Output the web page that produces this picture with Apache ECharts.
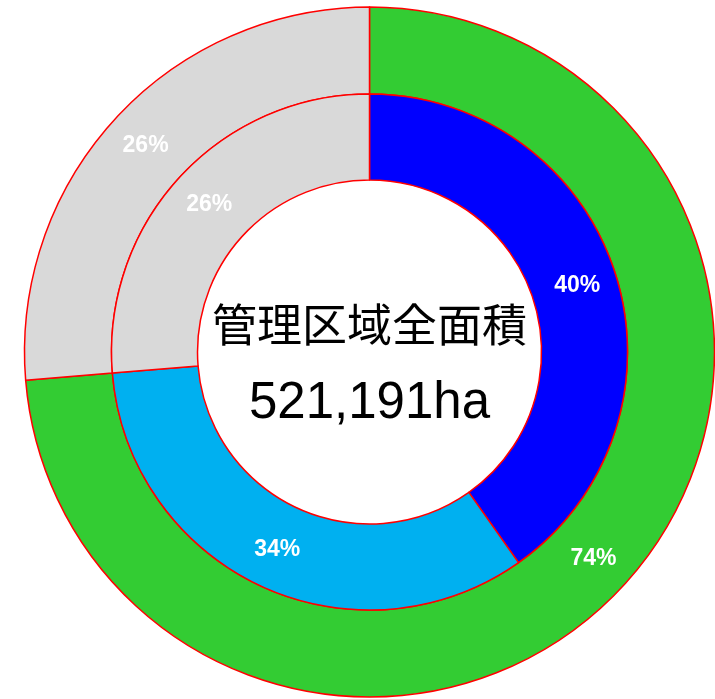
<!DOCTYPE html>
<html>
<head>
<meta charset="utf-8">
<script src="https://cdn.jsdelivr.net/npm/echarts@6/dist/echarts.min.js"></script>
<style>
  html, body { margin: 0; padding: 0; background: #fff; }
  #chart { width: 715px; height: 699px; }
</style>
</head>
<body>
<div id="chart"></div>
<script>
// 外側リング (割合)
const outerNames = ['管理区域A', 'その他'];
const outerValues = [73.7, 26.3];
const outerColors = ['#33cc33', '#d9d9d9'];
// 内側リング (割合)
const innerNames = ['区分1', '区分2', 'その他'];
const innerValues = [40.2, 33.5, 26.3];
const innerColors = ['#0000ff', '#00b0f0', '#d9d9d9'];
// 中央テキスト
const centerTitle = '管理区域全面積';
const centerValue = '521,191ha';

const labelFont = "'Liberation Sans', Arial, sans-serif";
const cx = 369.5, cy = 352;

const toData = (names, values, colors) => names.map((n, i) => ({
  name: n, value: values[i], itemStyle: { color: colors[i] }
}));

const ringLabel = {
  position: 'inside',
  formatter: '{d}%',
  color: '#fff',
  fontSize: 23,
  fontWeight: 'bold',
  fontFamily: labelFont
};

const myChart = echarts.init(document.getElementById('chart'));
const option = {
  animation: false,
  backgroundColor: '#fff',
  graphic: [
    {
      type: 'text',
      x: cx,
      y: 325,
      style: {
        text: centerTitle,
        align: 'center',
        verticalAlign: 'middle',
        fontSize: 45,
        fill: '#000',
        fontFamily: "'Noto Sans CJK JP', sans-serif"
      }
    },
    {
      type: 'text',
      x: cx,
      y: 404,
      style: {
        text: centerValue,
        align: 'center',
        verticalAlign: 'middle',
        fontSize: 51,
        fill: '#000',
        fontFamily: "'Liberation Sans', Arial, sans-serif"
      }
    }
  ],
  series: [
    {
      type: 'pie',
      center: [cx, cy],
      radius: [258, 345],
      startAngle: 90,
      clockwise: true,
      silent: true,
      percentPrecision: 0,
      itemStyle: { borderColor: '#ff0000', borderWidth: 1.5 },
      label: ringLabel,
      labelLine: { show: false },
      data: toData(outerNames, outerValues, outerColors)
    },
    {
      type: 'pie',
      center: [cx, cy],
      radius: [172, 258],
      startAngle: 90,
      clockwise: true,
      silent: true,
      percentPrecision: 0,
      itemStyle: { borderColor: '#ff0000', borderWidth: 1.5 },
      label: ringLabel,
      labelLine: { show: false },
      data: toData(innerNames, innerValues, innerColors)
    }
  ]
};
option && myChart.setOption(option);
</script>
</body>
</html>
